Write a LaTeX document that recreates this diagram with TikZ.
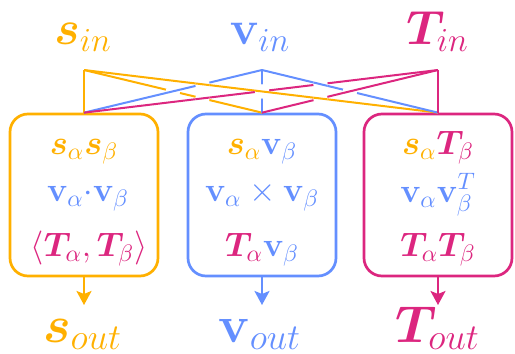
\RequirePackage{fix-cm}
\documentclass[tikz,border=0pt]{standalone}
\usepackage{amsmath,bm}
\usetikzlibrary{arrows.meta,intersections}
\definecolor{cO}{HTML}{FFB000}
\definecolor{cB}{HTML}{648FFF}
\definecolor{cP}{HTML}{DC267F}
\newcommand\overcross[4]{%
  \fill[white] (#1) circle[radius=3.6pt];
  \begin{scope}\clip (#1) circle[radius=3.6pt];
    \draw[conn,#2] (#3) -- (#4);
  \end{scope}}
\begin{document}
\begin{tikzpicture}[x=0.5pt,y=-0.5pt,
  conn/.style={line width=1pt},
  box/.style={draw, line width=1.35pt, rounded corners=9pt, minimum width=74pt, minimum height=81pt, inner sep=0pt},
  lbl/.style={anchor=base, inner sep=0pt, font=\fontsize{24}{28}\selectfont},
  olbl/.style={anchor=base, inner sep=0pt, font=\fontsize{26}{30}\selectfont},
  row/.style={anchor=base, inner sep=0pt, font=\fontsize{17}{20}\selectfont},
  outarrow/.style={line width=1.2pt, -{Stealth[length=7pt,width=7.5pt,inset=1.5pt]}},
]
\useasboundingbox (0,0) rectangle (515,354);
% input labels
\node[lbl, text=cO] (sin) at (83,44) {$\bm{s}_{in}$};
\node[lbl, text=cB] (vin) at (260,44) {$\mathbf{v}_{in}$};
\node[lbl, text=cP] (Tin) at (437.5,44) {$\bm{T}_{in}$};
% junctions
\coordinate (jO) at (84,70);
\coordinate (jB) at (262,70);
\coordinate (jP) at (438,70);
% boxes
\node[box, draw=cO] (bO) at (84,195) {};
\node[box, draw=cB] (bB) at (262,195) {};
\node[box, draw=cP] (bP) at (438,195) {};
% connectors
\draw[conn, cO] (jO) -- (bO.north);
\draw[conn, cO, name path=O2] (jO) -- (bB.north);
\draw[conn, cO, name path=O3] (jO) -- (bP.north);
\draw[conn, cB, name path=B1] (jB) -- (bO.north);
\draw[conn, cB, name path=B2] (jB) -- (bB.north);
\draw[conn, cB, name path=B3] (jB) -- (bP.north);
\draw[conn, cP, name path=P1] (jP) -- (bO.north);
\draw[conn, cP, name path=P2] (jP) -- (bB.north);
\draw[conn, cP] (jP) -- (bP.north);
% crossings
\path[name intersections={of=O2 and B1, by=xa}];
\path[name intersections={of=O2 and P1, by=xb}];
\path[name intersections={of=O3 and B1, by=xc}];
\path[name intersections={of=O3 and B2, by=xd}];
\path[name intersections={of=B3 and P1, by=xe}];
\path[name intersections={of=B3 and P2, by=xf}];
\path[name intersections={of=O3 and P2, by=xg}];
\overcross{xa}{cB}{jB}{bO.north}
\overcross{xb}{cP}{jP}{bO.north}
\overcross{xc}{cO}{jO}{bP.north}
\overcross{xd}{cO}{jO}{bP.north}
\overcross{xe}{cB}{jB}{bP.north}
\overcross{xf}{cP}{jP}{bB.north}
\overcross{xg}{cO}{jO}{bP.north}
% box contents
\node[row, text=cO] (o1) at (84,154) {$\bm{s}_\alpha\bm{s}_\beta$};
\node[row, text=cB] (o2) at (88,201) {$\mathbf{v}_\alpha{\cdot}\mathbf{v}_\beta$};
\node[row, text=cP] (o3) at (89,256) {$\langle\bm{T}_\alpha,\bm{T}_\beta\rangle$};
\node[row] (b1) at (262,154) {$\textcolor{cO}{\bm{s}_\alpha}\textcolor{cB}{\mathbf{v}_\beta}$};
\node[row, text=cB] (b2) at (262,201) {$\mathbf{v}_\alpha\times\mathbf{v}_\beta$};
\node[row] (b3) at (262,256) {$\textcolor{cP}{\bm{T}_\alpha}\textcolor{cB}{\mathbf{v}_\beta}$};
\node[row] (p1) at (438,154) {$\textcolor{cO}{\bm{s}_\alpha}\textcolor{cP}{\bm{T}_\beta}$};
\node[row, text=cB] (p2) at (438,202) {$\mathbf{v}_\alpha\mathbf{v}_\beta^{T}$};
\node[row, text=cP] (p3) at (438,256) {$\bm{T}_\alpha\bm{T}_\beta$};
% outputs
\coordinate (aO) at (84,305);
\coordinate (aB) at (262,305);
\coordinate (aP) at (438,305);
\draw[outarrow, cO] (bO.south) -- (aO);
\draw[outarrow, cB] (bB.south) -- (aB);
\draw[outarrow, cP] (bP.south) -- (aP);
\node[olbl, text=cO] (sout) at (82.5,342) {$\bm{s}_{out}$};
\node[olbl, text=cB] (vout) at (260,342) {$\mathbf{v}_{out}$};
\node[olbl, text=cP] (Tout) at (437.5,342) {$\bm{T}_{out}$};
\end{tikzpicture}
\end{document}
